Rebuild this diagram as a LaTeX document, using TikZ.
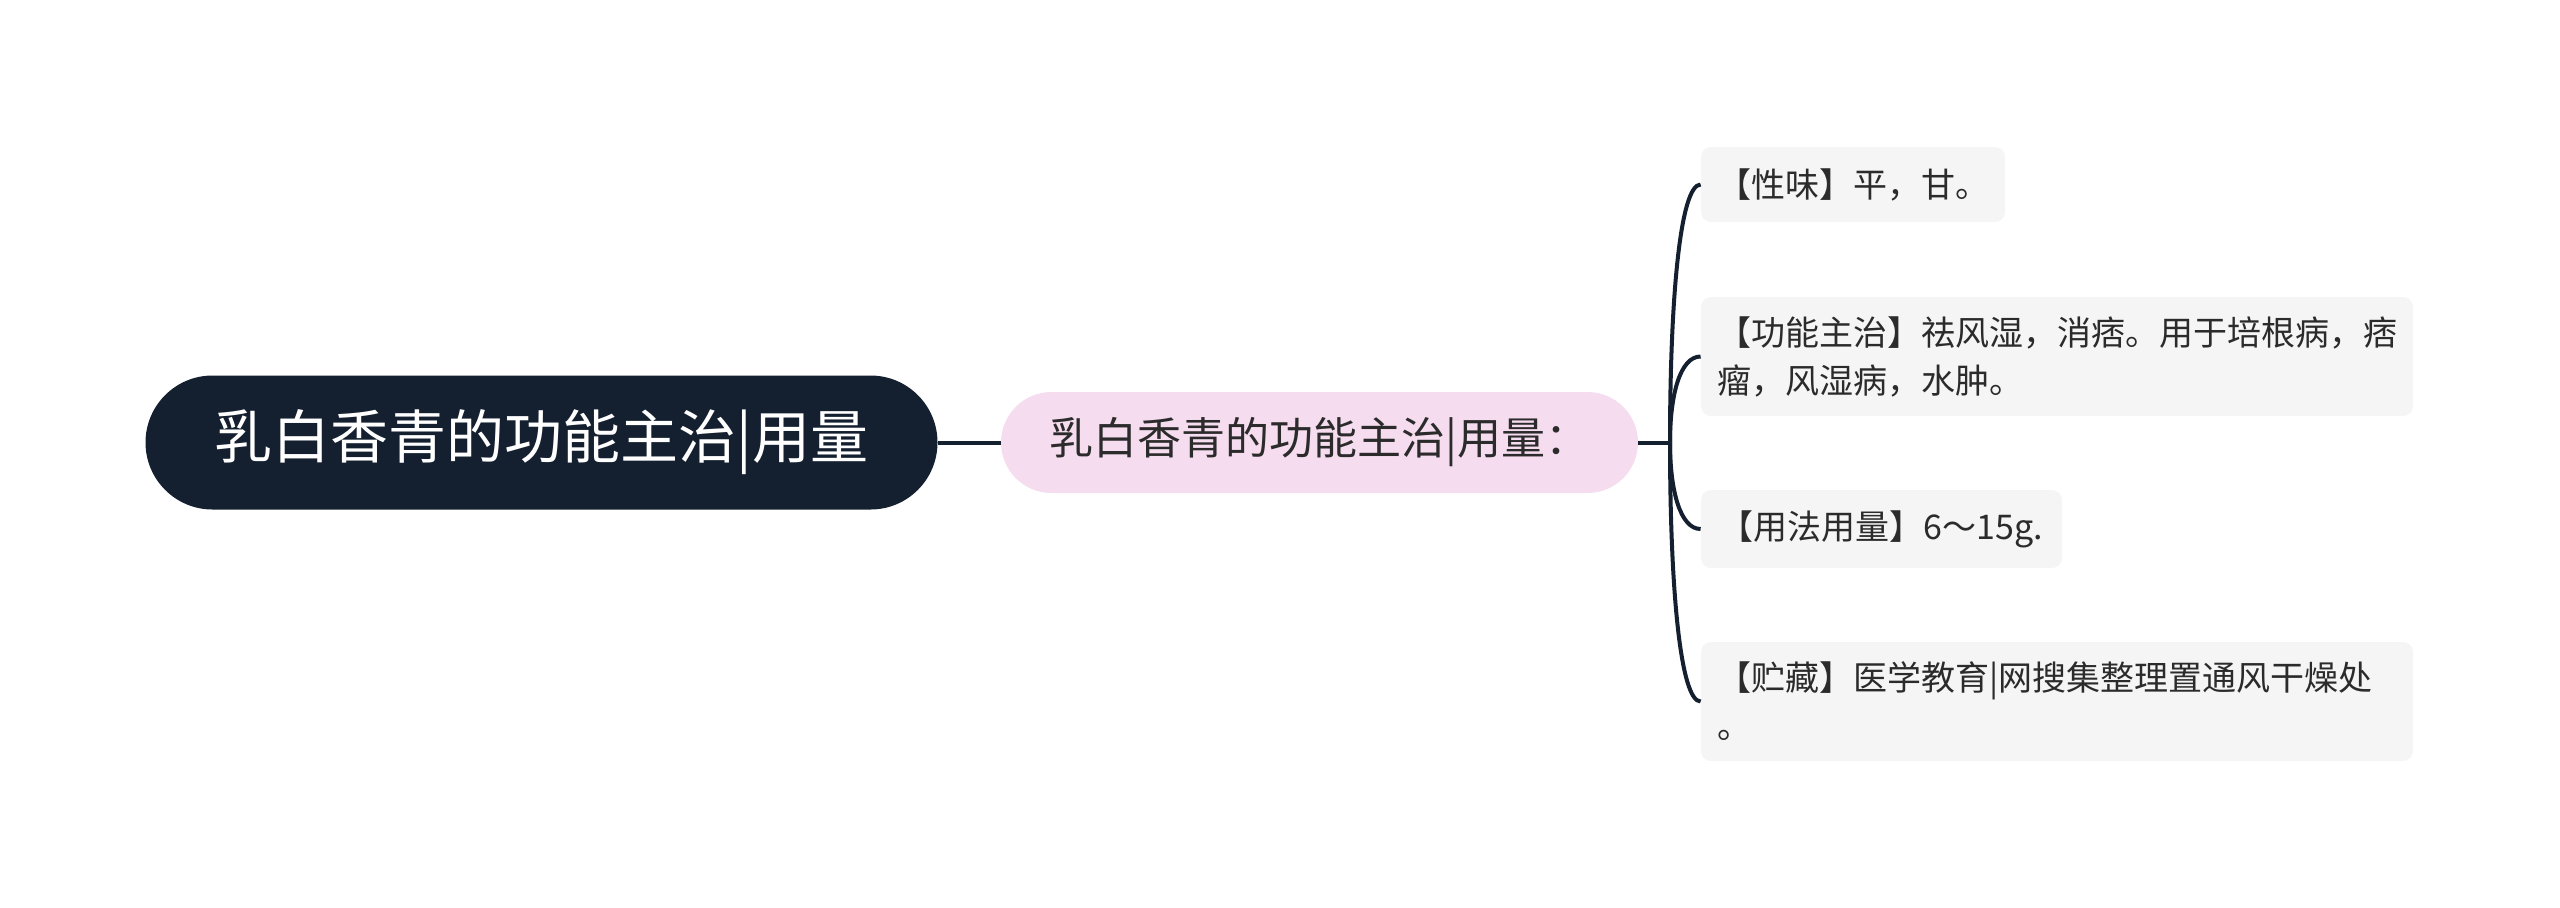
\documentclass[tikz,border=0pt]{standalone}
\usepackage{fontspec}
\setmainfont{Noto Sans CJK SC}
\usetikzlibrary{shapes.misc}
\definecolor{navy}{HTML}{14202F}
\definecolor{pinkbg}{HTML}{F5DCEF}
\definecolor{leafbg}{HTML}{F5F5F5}
\definecolor{txt}{HTML}{2B2B2B}
\tikzset{
  rootbox/.style={rounded rectangle, fill=navy, text=white, minimum width=396pt, minimum height=67pt, inner sep=0pt, font=\fontsize{29}{35}\selectfont},
  midbox/.style={rounded rectangle, fill=pinkbg, text=txt, minimum width=318.5pt, minimum height=50.5pt, inner sep=0pt, font=\fontsize{22}{28}\selectfont},
  leafbox/.style={rectangle, rounded corners=5pt, fill=leafbg, text=txt, align=left, inner xsep=8pt, inner ysep=0pt, font=\fontsize{17}{24}\selectfont},
  conn/.style={draw=navy, line width=2pt},
}
\begin{document}
\begin{tikzpicture}[x=0.5pt,y=-0.5pt]
\useasboundingbox (0,0) rectangle (2560,907);
\node[rootbox] (root) at (541.5,442.5) {乳白香青的功能主治|用量};
\node[midbox] (mid) at (1319.5,442.5) {乳白香青的功能主治|用量：};
\node[leafbox, minimum width=152pt, minimum height=37.5pt] (l1) at (1853,184.5) {【性味】平，甘。};
\node[leafbox, text width=340pt, minimum height=59.5pt] (l2) at (2057,356.5) {【功能主治】祛风湿，消痞。用于培根病，痞\\瘤，风湿病，水肿。};
\node[leafbox, minimum width=180.5pt, minimum height=39pt] (l3) at (1881.5,529) {【用法用量】6～15g.};
\node[leafbox, text width=340pt, minimum height=59.5pt] (l4) at (2057,701.5) {【贮藏】医学教育|网搜集整理置通风干燥处\\。};
\coordinate (J) at (1670,442.5);
\draw[conn] (root.east) -- (mid.west);
\draw[conn] (mid.east) -- (J);
\draw[conn] (J) .. controls (1670,300) and (1680,184.5) .. (l1.west);
\draw[conn] (J) .. controls (1670,395) and (1680,356.5) .. (l2.west);
\draw[conn] (J) .. controls (1670,490) and (1680,529) .. (l3.west);
\draw[conn] (J) .. controls (1670,585) and (1680,701.5) .. (l4.west);
\end{tikzpicture}
\end{document}
